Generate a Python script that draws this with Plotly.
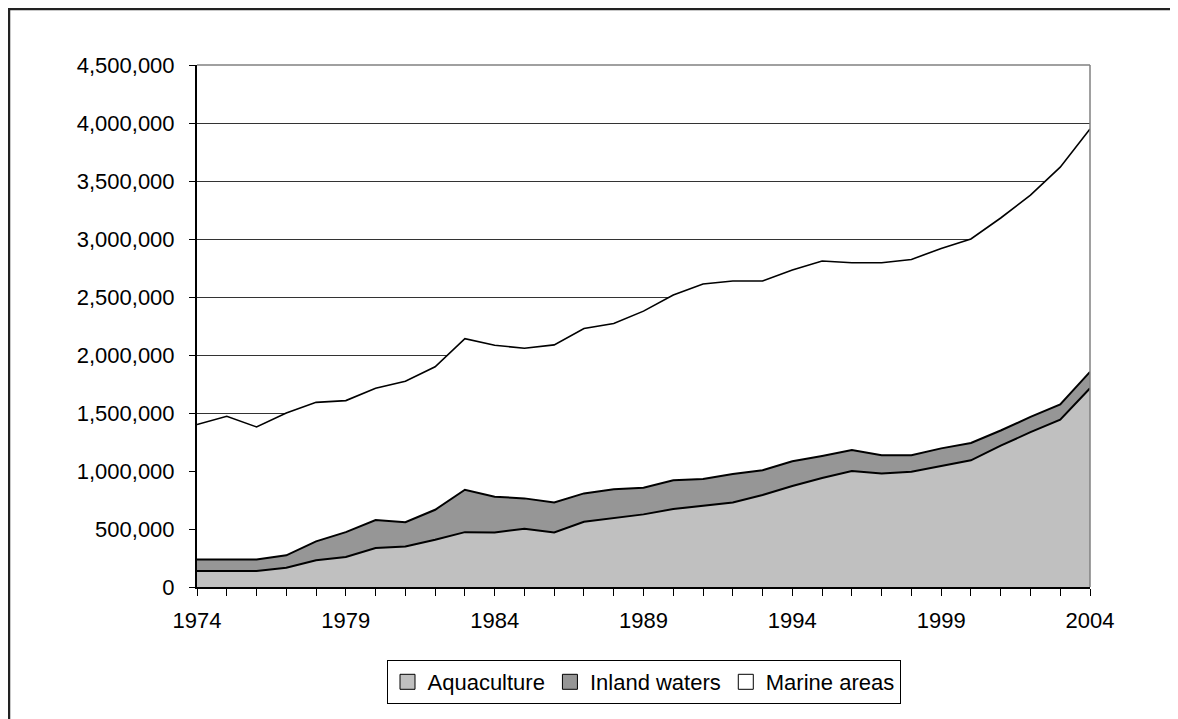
import plotly.graph_objects as go

years = list(range(1974, 2005))

aquaculture = [138000, 138000, 138000, 166000, 230000, 258000, 336000, 350000, 407000, 473000,
               470000, 502000, 470000, 562000, 597000, 626000, 672000, 701000, 729000, 793000,
               871000, 940000, 999000, 978000, 993000, 1043000, 1092000, 1218000, 1335000, 1443000,
               1714000]
inland_waters = [100000, 100000, 100000, 107000, 163000, 215000, 241000, 209000, 259000, 365000,
                 308000, 262000, 259000, 245000, 245000, 230000, 248000, 230000, 245000, 213000,
                 213000, 190000, 181000, 158000, 143000, 152000, 149000, 131000, 131000, 131000,
                 141000]
marine_areas = [1162000, 1234000, 1142000, 1227000, 1199000, 1134000, 1136000, 1214000, 1233000, 1303000,
                1306000, 1294000, 1358000, 1422000, 1430000, 1522000, 1597000, 1681000, 1664000, 1632000,
                1649000, 1680000, 1615000, 1659000, 1688000, 1723000, 1759000, 1832000, 1913000, 2045000,
                2094000]

series_names = ["Aquaculture", "Inland waters", "Marine areas"]
fill_colors = ["#c0c0c0", "#969696", "#ffffff"]
line_widths = [2, 2, 1.6]

FONT = "Liberation Sans, Arial, sans-serif"
FS = 22

fig = go.Figure()
for name, vals, col, lw in zip(series_names, [aquaculture, inland_waters, marine_areas], fill_colors, line_widths):
    fig.add_trace(go.Scatter(
        x=years, y=vals, name=name, stackgroup="one", mode="lines",
        line=dict(color="black", width=lw), fillcolor=col, showlegend=False,
        hovertemplate="%{x}: %{y:,d}<extra>" + name + "</extra>",
    ))
# legend entries with square swatches
for name, col in zip(series_names, fill_colors):
    fig.add_trace(go.Scatter(
        x=[None], y=[None], mode="markers", name=name,
        marker=dict(symbol="square", size=15, color=col, line=dict(color="black", width=1)),
    ))

W, H = 1170, 711
L, R, T, B = 189, 88, 57, 132
pw, ph = W - L - R, H - T - B


def px_x(p):
    return (p - L) / pw


def px_y(p):
    return (H - B - p) / ph


shapes = [
    # plot area top and right border (gray)
    dict(type="line", xref="paper", yref="paper", x0=0, x1=1, y0=1, y1=1,
         line=dict(color="#808080", width=1.5)),
    dict(type="line", xref="paper", yref="paper", x0=1, x1=1, y0=0, y1=1,
         line=dict(color="#808080", width=1.5)),
    # outer chart frame (top and left)
    dict(type="line", xref="paper", yref="paper", x0=px_x(0), x1=px_x(W + 5), y0=px_y(1), y1=px_y(1),
         line=dict(color="#222222", width=2.5)),
    dict(type="line", xref="paper", yref="paper", x0=px_x(1), x1=px_x(1), y0=px_y(0), y1=px_y(H + 5),
         line=dict(color="#222222", width=2.5)),
]

fig.update_layout(
    width=W, height=H,
    margin=dict(l=L, r=R, t=T, b=B),
    paper_bgcolor="white", plot_bgcolor="white",
    font=dict(family=FONT, size=FS, color="black"),
    shapes=shapes,
    showlegend=True,
    legend=dict(orientation="h", x=0.5, xanchor="center", y=px_y(652), yanchor="top",
                bordercolor="black", borderwidth=1, font=dict(size=FS, family=FONT),
                itemwidth=30, traceorder="normal", bgcolor="white"),
    xaxis=dict(range=[1974, 2004], tick0=1974, dtick=5, ticks="outside", ticklen=7,
               tickcolor="black", tickwidth=1, showgrid=False, showline=True,
               linecolor="black", linewidth=2, zeroline=False, ticklabelstandoff=6,
               tickfont=dict(size=FS, family=FONT),
               minor=dict(dtick=1, ticks="outside", ticklen=7, tickcolor="black", tickwidth=1,
                          showgrid=False)),
    yaxis=dict(range=[0, 4500000], dtick=500000, tickformat=",d", ticks="outside", ticklen=6,
               tickcolor="black", showgrid=True, gridcolor="#333333", gridwidth=1,
               showline=True, linecolor="black", linewidth=2, zeroline=False,
               ticklabelstandoff=10, tickfont=dict(size=FS, family=FONT)),
)

fig.write_html("out.html")
